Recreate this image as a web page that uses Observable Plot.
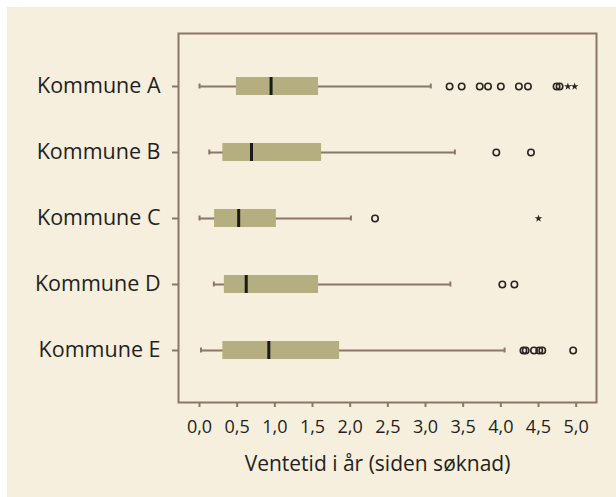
<!DOCTYPE html>
<html>
<head>
<meta charset="utf-8">
<script src="https://cdn.jsdelivr.net/npm/d3@7"></script>
<script src="https://cdn.jsdelivr.net/npm/@observablehq/plot@0.6"></script>
<style>
  html, body { margin: 0; padding: 0; background: #ffffff; }
  #chart { position: absolute; left: 7px; top: 7px; width: 609px; height: 490px; background: #f6efdd; }
  #chart svg { display: block; }
</style>
</head>
<body>
<div id="chart"></div>
<script>
const categories = ["Kommune A", "Kommune B", "Kommune C", "Kommune D", "Kommune E"];
const whiskerLow  = [0.00, 0.13, 0.00, 0.19, 0.02];
const q1          = [0.49, 0.31, 0.20, 0.33, 0.31];
const median      = [0.95, 0.69, 0.52, 0.62, 0.92];
const q3          = [1.58, 1.62, 1.02, 1.58, 1.86];
const whiskerHigh = [3.07, 3.39, 2.01, 3.33, 4.05];
const outliers = [
  [3.32, 3.48, 3.72, 3.83, 4.00, 4.24, 4.36, 4.74, 4.78],
  [3.94, 4.40],
  [2.33],
  [4.02, 4.18],
  [4.30, 4.33, 4.44, 4.51, 4.55, 4.96]
];
const extremes = [
  [4.89, 4.98],
  [],
  [4.50],
  [],
  []
];
const xTicks = [0, 0.5, 1, 1.5, 2, 2.5, 3, 3.5, 4, 4.5, 5];
const xLabel = "Ventetid i år (siden søknad)";

const boxes = categories.map((name, i) => ({
  name, lo: whiskerLow[i], q1: q1[i], med: median[i], q3: q3[i], hi: whiskerHigh[i]
}));
const outPts = categories.flatMap((name, i) => outliers[i].map(v => ({name, v})));
const extPts = categories.flatMap((name, i) => extremes[i].map(v => ({name, v})));

const brown = "#8b7765";
const ink = "#231f20";
const font = "'Open Sans', 'DejaVu Sans', sans-serif";

const chart = Plot.plot({
  width: 609,
  height: 490,
  marginLeft: 171,
  marginRight: 20,
  marginTop: 26,
  marginBottom: 95,
  style: { background: "transparent", fontFamily: font, color: ink },
  x: { domain: [-0.279, 5.27] },
  y: { domain: categories, paddingInner: 0.73, paddingOuter: 0.6475 },
  marks: [
    Plot.frame({ stroke: brown, strokeWidth: 2 }),
    Plot.axisY({ tickSize: 6, tickPadding: 12, stroke: brown, strokeWidth: 2, fill: ink, fontSize: 21.5, label: null }),
    Plot.axisX({ ticks: xTicks, tickSize: 5, tickPadding: 13, stroke: brown, strokeWidth: 2, fill: ink, fontSize: 18, label: null,
      tickFormat: d => d.toFixed(1).replace(".", ",") }),
    Plot.ruleY(boxes, { y: "name", x1: "lo", x2: "hi", stroke: brown, strokeWidth: 2 }),
    Plot.tickX(boxes, { y: "name", x: "lo", stroke: brown, strokeWidth: 2, insetTop: 6.5, insetBottom: 6.5 }),
    Plot.tickX(boxes, { y: "name", x: "hi", stroke: brown, strokeWidth: 2, insetTop: 6.5, insetBottom: 6.5 }),
    Plot.barX(boxes, { y: "name", x1: "q1", x2: "q3", fill: "#b5ae80" }),
    Plot.tickX(boxes, { y: "name", x: "med", stroke: "#1a1a1a", strokeWidth: 3 }),
    Plot.dot(outPts, { y: "name", x: "v", r: 3.2, stroke: "#2a2522", strokeWidth: 1.6, fill: "none" }),
    Plot.dot(extPts, { y: "name", x: "v", symbol: "star", r: 2.4, fill: "#2a2522", stroke: "none" }),
    Plot.text([xLabel], { frameAnchor: "bottom", dy: 68, dx: -10, fontSize: 21, fill: ink, fontFamily: font })
  ]
});
document.getElementById("chart").appendChild(chart);
</script>
</body>
</html>
